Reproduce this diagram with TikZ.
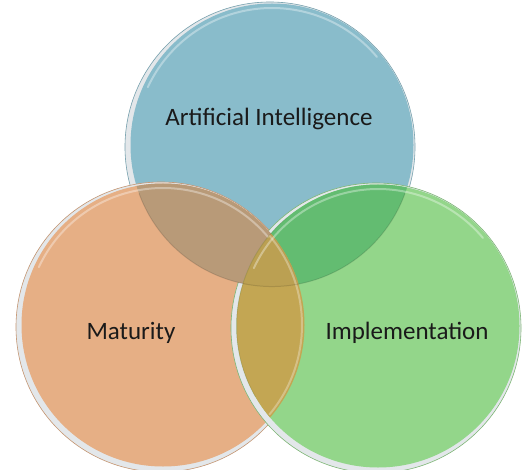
\documentclass[tikz,border=0pt]{standalone}
\usepackage{fontspec}
\setmainfont{Carlito}
\definecolor{cblue}{HTML}{89BCCB}
\definecolor{corange}{HTML}{E6AF85}
\definecolor{cgreen}{HTML}{93D68A}
\definecolor{cbo}{HTML}{B89A78}
\definecolor{cbg}{HTML}{63BC71}
\definecolor{cog}{HTML}{C3A653}
\definecolor{cbog}{HTML}{BBA052}
\definecolor{crim}{HTML}{E3E7EA}
\definecolor{ctext}{HTML}{1A1A1A}
\tikzset{
  lbl/.style={font=\fontsize{25}{30}\selectfont, text=ctext, inner sep=0pt},
  rimfill/.style={fill=crim},
  highlight/.style={draw=white, line width=2pt, opacity=0.35, line cap=round},
}
\begin{document}
\begin{tikzpicture}[x=1pt,y=-1pt]
\useasboundingbox[fill=white] (0,0) rectangle (529,470);
\coordinate (B) at (270,147);
\coordinate (O) at (161,327);
\coordinate (G) at (376,328);
\coordinate (Bi) at (272,145);
\coordinate (Oi) at (163,325);
\coordinate (Gi) at (378,326);
\def\R{145}
\def\Ri{141.5}
% base circles
\fill[rimfill] (B) circle (\R);
\draw[cblue!85!black, line width=0.6pt] (B) circle (\R);
\fill[cblue] (Bi) circle (\Ri);
\draw[highlight] (Bi) ++(205:137) arc (205:320:137);
\fill[rimfill] (O) circle (\R);
\draw[corange!85!black, line width=0.6pt] (O) circle (\R);
\fill[corange] (Oi) circle (\Ri);
\fill[rimfill] (G) circle (\R);
\draw[cgreen!85!black, line width=0.6pt] (G) circle (\R);
\fill[cgreen] (Gi) circle (\Ri);
% overlaps
\begin{scope}
  \clip (Bi) circle (\Ri);
  \fill[cbo] (Oi) circle (\Ri);
  \fill[cbg] (Gi) circle (\Ri);
\end{scope}
\begin{scope}
  \clip (Oi) circle (\Ri);
  \fill[cog] (Gi) circle (\Ri);
  \clip (Bi) circle (\Ri);
  \fill[cbog] (Gi) circle (\Ri);
\end{scope}
% highlights on top
\draw[highlight] (Oi) ++(205:137) arc (205:320:137);
\draw[highlight] (Gi) ++(205:137) arc (205:320:137);
\draw[highlight, opacity=0.3] (Oi) ++(-40:139) arc (-40:40:139);
% edges across overlaps
\draw[black, opacity=0.12, line width=1pt] (Bi) ++(20:\Ri) arc (20:160:\Ri);
\draw[black, opacity=0.08, line width=1pt] (Gi) ++(150:\Ri) arc (150:230:\Ri);
% labels
\node[lbl] (ai) at (269,119) {Artificial Intelligence};
\node[lbl] (mat) at (131,333) {Maturity};
\node[lbl] (imp) at (407,333) {Implementation};
\end{tikzpicture}
\end{document}
